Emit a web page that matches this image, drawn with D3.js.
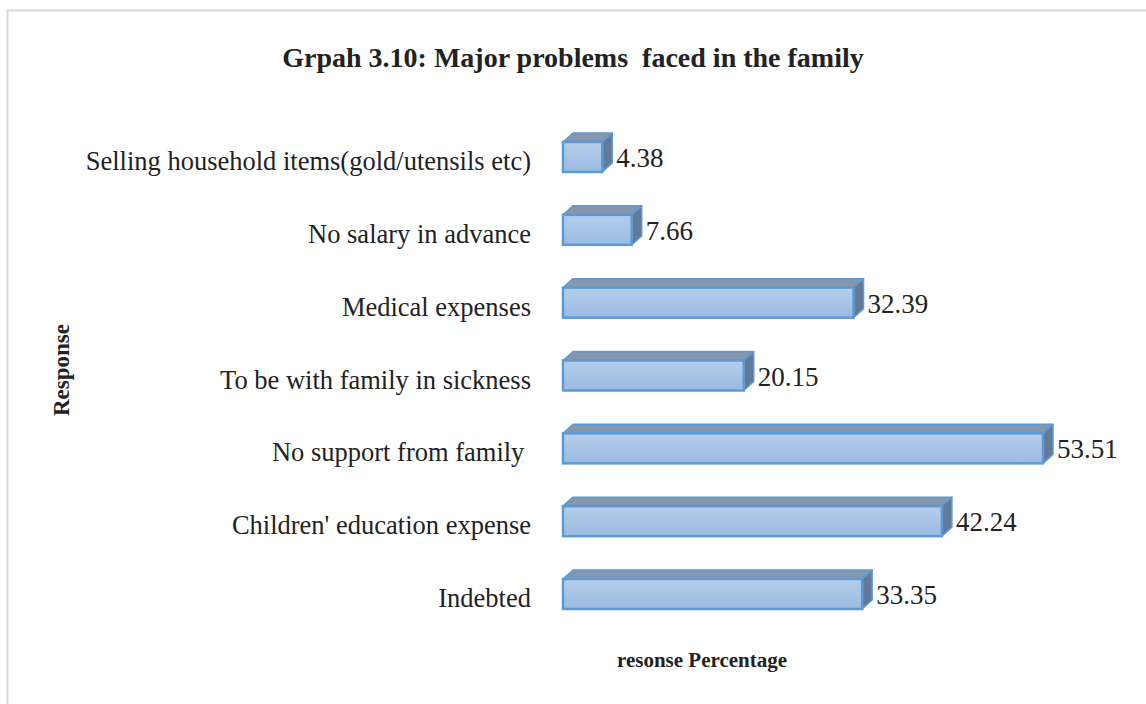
<!DOCTYPE html>
<meta charset="utf-8">
<style>
body { margin: 0; background: #fff; }
text { font-family: "Liberation Serif", "Times New Roman", serif; fill: #222; }
</style>
<svg width="1146" height="704"></svg>
<script src="https://d3js.org/d3.v7.min.js"></script>
<script>
// categories top to bottom, as they appear
var categories = [
  "Selling household items(gold/utensils etc)",
  "No salary in advance",
  "Medical expenses",
  "To be with family in sickness",
  "No support from family ",
  "Children' education expense",
  "Indebted"
]
var values = [4.38, 7.66, 32.39, 20.15, 53.51, 42.24, 33.35]

const svg = d3.select('svg')

// outer chart frame
svg.append('rect')
  .attr('x', 7.5).attr('y', 10.5)
  .attr('width', 1160).attr('height', 720)
  .attr('fill', '#fff')
  .attr('stroke', '#d9d9d9')
  .attr('stroke-width', 2)

const defs = svg.append('defs')
const grad = defs.append('linearGradient')
  .attr('id', 'front').attr('x1', 0).attr('y1', 0).attr('x2', 0).attr('y2', 1)
grad.append('stop').attr('offset', '0%').attr('stop-color', '#b5cdea')
grad.append('stop').attr('offset', '100%').attr('stop-color', '#9bbbe2')

const x = d3.scaleLinear().domain([0, 60]).range([563, 563 + 538.2])
const y = d3.scalePoint().domain(categories).range([157, 594])

const barH = 30, dx = 10, dy = 9

const data = categories.map((c, i) => ({ cat: c, val: values[i] }))

const bars = svg.append('g').selectAll('g')
  .data(data)
  .enter().append('g')

// top face
bars.append('path')
  .attr('d', d => {
    const x0 = x(0), x1 = x(d.val), yt = y(d.cat) - barH / 2
    return `M${x0},${yt}L${x0 + dx},${yt - dy}L${x1 + dx},${yt - dy}L${x1},${yt}Z`
  })
  .attr('fill', '#8696ae')
  .attr('stroke', '#5b9bd5').attr('stroke-width', 1.5).attr('stroke-linejoin', 'round')

// side face
bars.append('path')
  .attr('d', d => {
    const x1 = x(d.val), yt = y(d.cat) - barH / 2
    return `M${x1},${yt}L${x1 + dx},${yt - dy}L${x1 + dx},${yt - dy + barH}L${x1},${yt + barH}Z`
  })
  .attr('fill', '#62799a')
  .attr('stroke', '#5b9bd5').attr('stroke-width', 1.5).attr('stroke-linejoin', 'round')

// front face
bars.append('rect')
  .attr('x', x(0))
  .attr('y', d => y(d.cat) - barH / 2)
  .attr('width', d => x(d.val) - x(0))
  .attr('height', barH)
  .attr('fill', 'url(#front)')
  .attr('stroke', '#5b9bd5').attr('stroke-width', 2.5)

// value labels
bars.append('text')
  .attr('x', d => x(d.val) + dx + 4)
  .attr('y', d => y(d.cat) + 10)
  .attr('font-size', 27)
  .text(d => d.val.toFixed(2))

// category labels
svg.append('g').selectAll('text')
  .data(categories)
  .enter().append('text')
  .attr('x', 531)
  .attr('y', d => y(d) + 13)
  .attr('text-anchor', 'end')
  .attr('font-size', 26.5)
  .style('white-space', 'pre')
  .text(d => d)

// title
svg.append('text')
  .attr('x', 573).attr('y', 67)
  .attr('text-anchor', 'middle')
  .attr('font-size', 28).attr('font-weight', 'bold')
  .style('white-space', 'pre')
  .text('Grpah 3.10: Major problems  faced in the family')

// axis titles
svg.append('text')
  .attr('transform', 'translate(69,370) rotate(-90)')
  .attr('text-anchor', 'middle')
  .attr('font-size', 23).attr('font-weight', 'bold')
  .text('Response')

svg.append('text')
  .attr('x', 702).attr('y', 667)
  .attr('text-anchor', 'middle')
  .attr('font-size', 21).attr('font-weight', 'bold')
  .text('resonse Percentage')
</script>
